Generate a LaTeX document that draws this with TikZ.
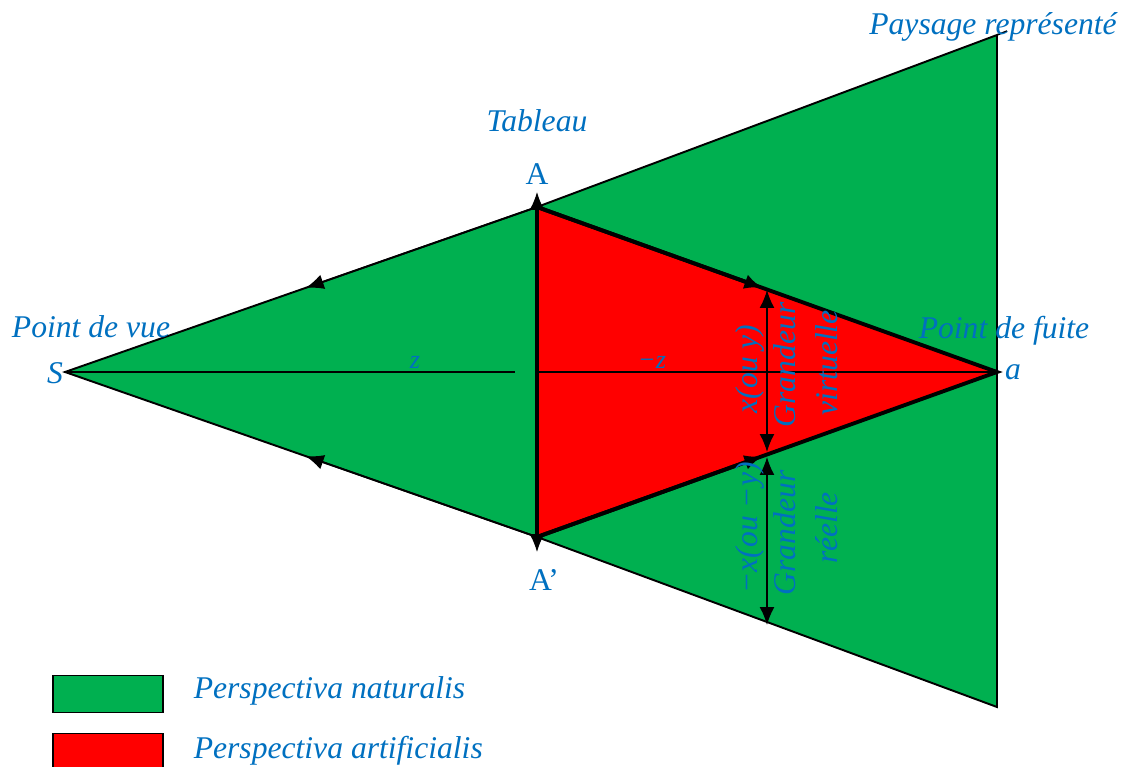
\documentclass[tikz,border=0pt]{standalone}
\usepackage{fontspec}
\setmainfont{Liberation Serif}
\usepackage{tikz}
\usetikzlibrary{arrows.meta, bending, calc, positioning}
\definecolor{vert}{RGB}{0,176,80}
\definecolor{rouge}{RGB}{255,0,0}
\definecolor{bleu}{RGB}{0,112,192}
\tikzset{
  my tip style/.style={
    >={Latex[length=3.6mm,width=3mm]}, % arrow tip style
    line width=0.9pt,                 % default line thickness
  },
  label style/.style={text=bleu, font=\fontsize{18}{20}\selectfont\itshape, inner sep=0pt},
  point style/.style={text=bleu, font=\fontsize{18}{20}\selectfont, inner sep=0pt},
  small label/.style={text=bleu, font=\fontsize{15}{17}\selectfont\itshape, inner sep=0pt},
  thick edge/.style={line width=2.2pt},
  legend box/.style={draw, line width=1pt, minimum width=2.2cm, minimum height=0.74cm, inner sep=0pt}
}

\begin{document}
\begin{tikzpicture}[x=0.02cm, y=-0.02cm, my tip style]
    \useasboundingbox (0,0) rectangle (1130,767);
    % Points
    \coordinate (S) at (65,372);
    \coordinate (top) at (997,35);
    \coordinate (bot) at (997,707);
    \coordinate (A) at (537,207);
    \coordinate (Ap) at (537,537);
    \coordinate (M) at (537,372);
    \coordinate (a) at (997,372);

    % Perspectiva naturalis
    \filldraw[fill=vert, line width=1.1pt] (S) -- (A) -- (top) -- (bot) -- (Ap) -- cycle;
    \draw (top) -- ++(10,-4);

    % Perspectiva artificialis
    \filldraw[fill=rouge, thick edge] (A) -- (a) -- (Ap) -- cycle;

    % Rays towards the eye
    \coordinate (rayA) at ($(A)!0.49!(S)$);
    \coordinate (rayAp) at ($(Ap)!0.49!(S)$);
    \draw[->] (A) -- (rayA);
    \draw[->] (Ap) -- (rayAp);

    % Rays towards the vanishing point
    \coordinate (vA) at ($(A)!0.49!(a)$);
    \coordinate (vAp) at ($(Ap)!0.49!(a)$);
    \draw[->, thick edge] (A) -- (vA);
    \draw[->, thick edge] (Ap) -- (vAp);

    % Axis
    \coordinate (zend) at (515,372);
    \draw (S) -- (zend);
    \draw (M) -- (a);

    % Tableau
    \coordinate (Atip) at (537,192);
    \coordinate (Aptip) at (537,552);
    \draw[->] (A) -- (Atip);
    \draw[->] (Ap) -- (Aptip);

    % Grandeurs
    \coordinate (gvtop) at (767,290);
    \coordinate (gvbot) at (767,452);
    \coordinate (grtop) at (767,457);
    \coordinate (grbot) at (767,625);
    \draw[<->] (gvtop) -- (gvbot);
    \draw[<->] (grtop) -- (grbot);

    % Labels
    \node[label style] (vue) at (91,327) {Point de vue};
    \node[label style] (Slab) at (55,373) {S};
    \node[label style] (fuite) at (1004,331) {Point de fuite};
    \node[label style] (alab) at (1013,372) {a};
    \node[label style] (paysage) at (993,27) {Paysage représenté};
    \node[label style] (tableau) at (537,121) {Tableau};
    \node[point style] (Alab) at (537,174) {A};
    \node[point style] (Aplab) at (544,580) {A’};
    \node[small label] (zlab) at (415,362) {z};
    \node[small label] (mzlab) at (652,362) {−z};
    \node[label style, rotate=90] (xlab) at (750,369) {x(ou y)};
    \node[label style, rotate=90] (gv1) at (785,365) {Grandeur};
    \node[label style, rotate=90] (gv2) at (827,363) {virtuelle};
    \node[label style, rotate=90] (mxlab) at (750,528) {−x(ou −y)};
    \node[label style, rotate=90] (gr1) at (785,533) {Grandeur};
    \node[label style, rotate=90] (gr2) at (827,528) {réelle};

    % Legend
    \node[legend box, fill=vert] (natbox) at (108,694) {};
    \node[legend box, fill=rouge] (artbox) at (108,752) {};
    \node[label style, anchor=west] (natlab) at (193,691) {Perspectiva naturalis};
    \node[label style, anchor=west] (artlab) at (193,751) {Perspectiva artificialis};
\end{tikzpicture}
\end{document}
